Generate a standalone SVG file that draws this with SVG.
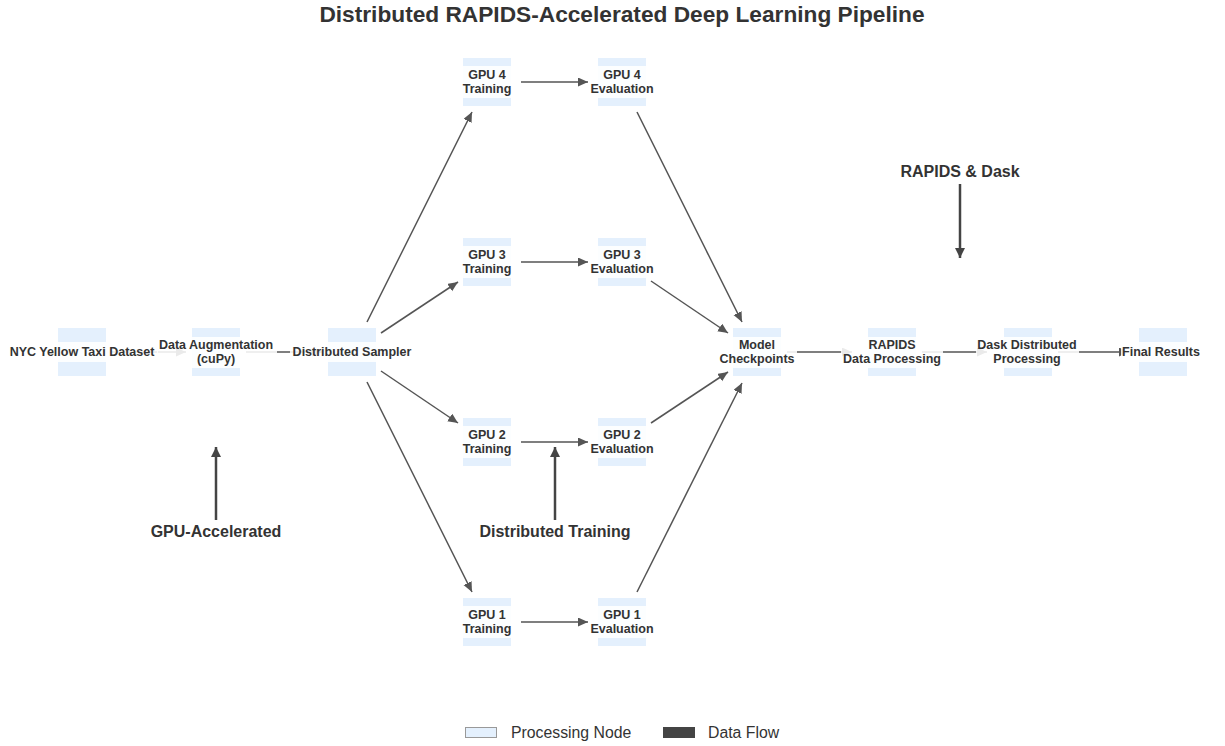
<svg xmlns="http://www.w3.org/2000/svg" width="1225" height="746" viewBox="0 0 1225 746">
<defs>
<style>
.nb{fill:#e4f0fd}
.lb{fill:#fff;fill-opacity:0.88}
.nt{font-family:"Liberation Sans",Arial,sans-serif;font-weight:bold;font-size:12.5px;fill:#333;text-anchor:middle}
.e{stroke:#555;stroke-width:1.5;fill:none;marker-end:url(#ah)}
.a{stroke:#444;stroke-width:2.5;fill:none;marker-end:url(#ah2)}
.at{font-family:"Liberation Sans",Arial,sans-serif;font-weight:bold;font-size:16px;fill:#333;text-anchor:middle}
.lg{font-family:"Liberation Sans",Arial,sans-serif;font-size:15.8px;fill:#333}
</style>
<marker id="ah" markerUnits="userSpaceOnUse" markerWidth="12" markerHeight="10" refX="10" refY="4.5" orient="auto"><path d="M0,0 L10,4.5 L0,9 Z" fill="#555"/></marker>
<marker id="ah2" markerUnits="userSpaceOnUse" markerWidth="12" markerHeight="12" refX="10" refY="5" orient="auto"><path d="M0,0 L10,5 L0,10 Z" fill="#444"/></marker>
</defs>
<rect width="1225" height="746" fill="#fff"/>
<text x="622" y="22" font-family="'Liberation Sans',Arial,sans-serif" font-weight="bold" font-size="22.7" fill="#333" text-anchor="middle">Distributed RAPIDS-Accelerated Deep Learning Pipeline</text>

<g id="node-rects">
<rect class="nb" x="58" y="328" width="48" height="48"/>
<rect class="nb" x="192" y="328" width="48" height="48"/>
<rect class="nb" x="328" y="328" width="48" height="48"/>
<rect class="nb" x="463" y="58" width="48" height="48"/>
<rect class="nb" x="598" y="58" width="48" height="48"/>
<rect class="nb" x="463" y="238" width="48" height="48"/>
<rect class="nb" x="598" y="238" width="48" height="48"/>
<rect class="nb" x="463" y="418" width="48" height="48"/>
<rect class="nb" x="598" y="418" width="48" height="48"/>
<rect class="nb" x="463" y="598" width="48" height="48"/>
<rect class="nb" x="598" y="598" width="48" height="48"/>
<rect class="nb" x="733" y="328" width="48" height="48"/>
<rect class="nb" x="868" y="328" width="48" height="48"/>
<rect class="nb" x="1004" y="328" width="48" height="48"/>
<rect class="nb" x="1139" y="328" width="48" height="48"/>
</g>

<g id="connectors">
<line class="e" x1="112" y1="352" x2="186" y2="352"/>
<line class="e" x1="246" y1="352" x2="322" y2="352"/>
<line class="e" x1="367" y1="322" x2="472" y2="112"/>
<line class="e" x1="381" y1="333" x2="458" y2="282"/>
<line class="e" x1="381" y1="371" x2="458" y2="423"/>
<line class="e" x1="367" y1="382" x2="472" y2="592"/>
<line class="e" x1="521" y1="82" x2="588" y2="82"/>
<line class="e" x1="521" y1="262" x2="588" y2="262"/>
<line class="e" x1="521" y1="442" x2="588" y2="442"/>
<line class="e" x1="521" y1="622" x2="588" y2="622"/>
<line class="e" x1="637" y1="112" x2="742" y2="322"/>
<line class="e" x1="651" y1="281" x2="728" y2="333"/>
<line class="e" x1="651" y1="423" x2="728" y2="372"/>
<line class="e" x1="637" y1="592" x2="742" y2="383"/>
<line class="e" x1="787" y1="352" x2="852" y2="352"/>
<line class="e" x1="922" y1="352" x2="987" y2="352"/>
<line class="e" x1="1058" y1="352" x2="1129" y2="352"/>
</g>

<g id="n-nyc"><rect class="lb" x="7" y="342" width="151" height="20"/><text class="nt" x="82" y="356">NYC Yellow Taxi Dataset</text></g>
<g id="n-aug"><rect class="lb" x="157" y="337" width="120" height="31"/><text class="nt" x="216" y="349">Data Augmentation</text><text class="nt" x="216" y="363">(cuPy)</text></g>
<g id="n-sampler"><rect class="lb" x="290" y="342" width="124" height="20"/><text class="nt" x="352" y="356">Distributed Sampler</text></g>
<g id="n-gpu4t"><rect class="lb" x="461" y="66" width="52" height="32"/><text class="nt" x="487" y="79">GPU 4</text><text class="nt" x="487" y="93">Training</text></g>
<g id="n-gpu4e"><rect class="lb" x="589" y="66" width="67" height="32"/><text class="nt" x="622" y="79">GPU 4</text><text class="nt" x="622" y="93">Evaluation</text></g>
<g id="n-gpu3t"><rect class="lb" x="461" y="246" width="52" height="32"/><text class="nt" x="487" y="259">GPU 3</text><text class="nt" x="487" y="273">Training</text></g>
<g id="n-gpu3e"><rect class="lb" x="589" y="246" width="67" height="32"/><text class="nt" x="622" y="259">GPU 3</text><text class="nt" x="622" y="273">Evaluation</text></g>
<g id="n-gpu2t"><rect class="lb" x="461" y="426" width="52" height="32"/><text class="nt" x="487" y="439">GPU 2</text><text class="nt" x="487" y="453">Training</text></g>
<g id="n-gpu2e"><rect class="lb" x="589" y="426" width="67" height="32"/><text class="nt" x="622" y="439">GPU 2</text><text class="nt" x="622" y="453">Evaluation</text></g>
<g id="n-gpu1t"><rect class="lb" x="461" y="606" width="52" height="32"/><text class="nt" x="487" y="619">GPU 1</text><text class="nt" x="487" y="633">Training</text></g>
<g id="n-gpu1e"><rect class="lb" x="589" y="606" width="67" height="32"/><text class="nt" x="622" y="619">GPU 1</text><text class="nt" x="622" y="633">Evaluation</text></g>
<g id="n-model"><rect class="lb" x="718" y="337" width="79" height="31"/><text class="nt" x="757" y="349">Model</text><text class="nt" x="757" y="363">Checkpoints</text></g>
<g id="n-rapids"><rect class="lb" x="841" y="337" width="102" height="31"/><text class="nt" x="892" y="349">RAPIDS</text><text class="nt" x="892" y="363">Data Processing</text></g>
<g id="n-dask"><rect class="lb" x="976" y="337" width="103" height="31"/><text class="nt" x="1027" y="349">Dask Distributed</text><text class="nt" x="1027" y="363">Processing</text></g>
<g id="n-final"><rect class="lb" x="1121" y="342" width="81" height="20"/><text class="nt" x="1161" y="356">Final Results</text></g>

<g id="annotations">
<line class="a" x1="216" y1="520" x2="216" y2="447"/>
<text class="at" x="216" y="537">GPU-Accelerated</text>
<line class="a" x1="555" y1="520" x2="555" y2="447"/>
<text class="at" x="555" y="537">Distributed Training</text>
<text class="at" x="960" y="177">RAPIDS &amp; Dask</text>
<line class="a" x1="960" y1="184" x2="960" y2="258"/>
</g>

<g id="legend">
<rect x="465.5" y="727.5" width="31" height="10" fill="#e4f0fd" stroke="#999" stroke-width="1"/>
<text class="lg" x="511" y="738">Processing Node</text>
<rect x="663" y="727" width="32" height="11" fill="#444"/>
<text class="lg" x="708" y="738">Data Flow</text>
</g>
</svg>
